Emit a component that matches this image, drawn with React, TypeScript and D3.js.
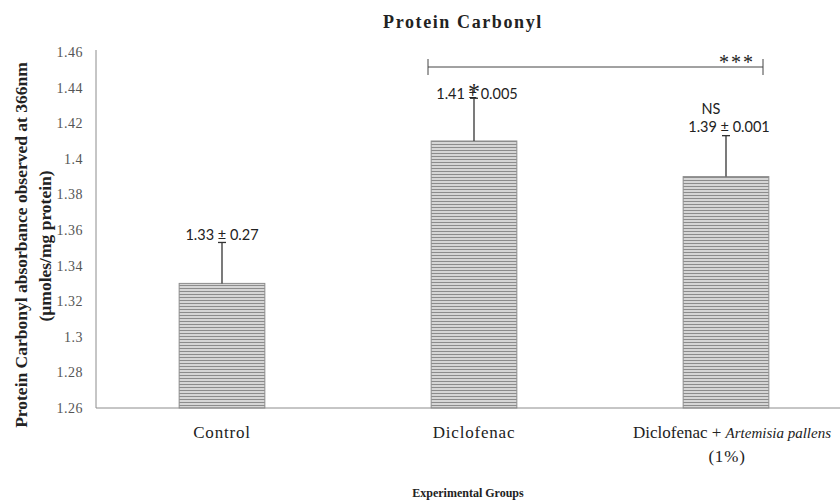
import React from "react";
import * as d3 from "d3";

const categories = ["Control", "Diclofenac", "Diclofenac + Artemisia pallens (1%)"];
const means = [1.33, 1.41, 1.39];
const errors = [0.023, 0.024, 0.023];
const valueLabels = ["1.33 ± 0.27", "1.41 ± 0.005", "1.39 ± 0.001"];
const sigMarks = ["", "*", "NS"];
const yTicks = [1.26, 1.28, 1.3, 1.32, 1.34, 1.36, 1.38, 1.4, 1.42, 1.44, 1.46];

const W = 840;
const H = 503;
const left = 96;
const top = 52;
const bottom = 408;

export default function App() {
  const x = d3.scaleBand<string>().domain(categories).range([left, 852]).paddingInner(0.66).paddingOuter(0.33);
  const y = d3.scaleLinear().domain([1.26, 1.46]).range([bottom, top]);
  const bw = x.bandwidth();
  const serif = "'Liberation Serif', 'Times New Roman', serif";
  const sans = "Lato, 'Open Sans', sans-serif";
  const c1 = x(categories[1])! + bw / 2;
  const c2 = x(categories[2])! + bw / 2;

  return (
    <svg width={W} height={H} style={{ position: "absolute", left: 0, top: 0, background: "#fff" }}>
      <defs>
        <pattern id="hatch" patternUnits="userSpaceOnUse" width={6} height={3}>
          <rect width={6} height={3} fill="#d6d6d6" />
          <rect y={0} width={6} height={1} fill="#8c8c8c" />
        </pattern>
      </defs>
      <text x={463} y={28} textAnchor="middle" fontFamily={serif} fontWeight="bold" fontSize={18} letterSpacing={1.6} fill="#222">
        Protein Carbonyl
      </text>

      {/* y axis title */}
      <g transform={`translate(21,245) rotate(-90)`}>
        <text x={0} y={6} textAnchor="middle" fontFamily={serif} fontWeight="bold" fontSize={17.5} fill="#222">
          Protein Carbonyl absorbance observed at 366nm
        </text>
      </g>
      <g transform={`translate(45,246) rotate(-90)`}>
        <text x={0} y={6} textAnchor="middle" fontFamily={serif} fontWeight="bold" fontSize={17.5} fill="#222">
          (µmoles/mg protein)
        </text>
      </g>

      {yTicks.map((t) => (
        <text key={t} x={83} y={y(t) + 5} textAnchor="end" fontFamily={serif} fontSize={14} letterSpacing={0.5} fill="#555">
          {d3.format("")(+t.toFixed(2))}
        </text>
      ))}

      {/* bars */}
      {categories.map((c, i) => (
        <rect key={c} x={x(c)!} y={y(means[i])} width={bw} height={bottom - y(means[i])} fill="url(#hatch)" stroke="#8c8c8c" strokeWidth={1} />
      ))}

      {/* axes */}
      <line x1={left} x2={left} y1={top - 2} y2={bottom} stroke="#8c8c8c" strokeWidth={1} />
      <line x1={left} x2={W} y1={bottom} y2={bottom} stroke="#8c8c8c" strokeWidth={1} />

      {/* error bars */}
      {categories.map((c, i) => {
        const cx = x(c)! + bw / 2;
        return (
          <g key={c} stroke="#333" strokeWidth={1.3}>
            <line x1={cx} x2={cx} y1={y(means[i])} y2={y(means[i] + errors[i])} />
            <line x1={cx - 4} x2={cx + 4} y1={y(means[i] + errors[i])} y2={y(means[i] + errors[i])} />
          </g>
        );
      })}

      {/* value labels */}
      <text x={x(categories[0])! + bw / 2} y={240} textAnchor="middle" fontFamily={sans} fontSize={14.5} fill="#222">{valueLabels[0]}</text>
      <text x={c1 + 3} y={99} textAnchor="middle" fontFamily={sans} fontSize={14.5} fill="#222">{valueLabels[1]}</text>
      <text x={c1} y={99} textAnchor="middle" fontFamily={serif} fontSize={24} fill="#222">{sigMarks[1]}</text>
      <text x={c2 + 3} y={132} textAnchor="middle" fontFamily={sans} fontSize={14.5} fill="#222">{valueLabels[2]}</text>
      <text x={c2 - 15} y={114} textAnchor="middle" fontFamily={sans} fontSize={14.5} fill="#222">{sigMarks[2]}</text>

      {/* significance bracket */}
      <g stroke="#444" strokeWidth={1}>
        <line x1={428} x2={763} y1={67} y2={67} />
        <line x1={428} x2={428} y1={59} y2={75} />
        <line x1={763} x2={763} y1={59} y2={75} />
      </g>
      <text x={737} y={69} textAnchor="middle" fontFamily={serif} fontSize={20} letterSpacing={2} fill="#222">***</text>

      {/* category labels */}
      <text x={x(categories[0])! + bw / 2} y={438} textAnchor="middle" fontFamily={serif} fontSize={17} letterSpacing={0.8} fill="#222">Control</text>
      <text x={c1} y={438} textAnchor="middle" fontFamily={serif} fontSize={17} letterSpacing={0.8} fill="#222">Diclofenac</text>
      <text x={c2 + 6} y={438} textAnchor="middle" fontFamily={serif} fontSize={17} fill="#222">
        Diclofenac +{" "}
        <tspan fontStyle="italic" fontSize={15}>Artemisia pallens</tspan>
      </text>
      <text x={c2 + 1} y={462} textAnchor="middle" fontFamily={serif} fontSize={17} letterSpacing={0.8} fill="#222">(1%)</text>

      <text x={468} y={497} textAnchor="middle" fontFamily={serif} fontWeight="bold" fontSize={12} fill="#222">Experimental Groups</text>
    </svg>
  );
}
